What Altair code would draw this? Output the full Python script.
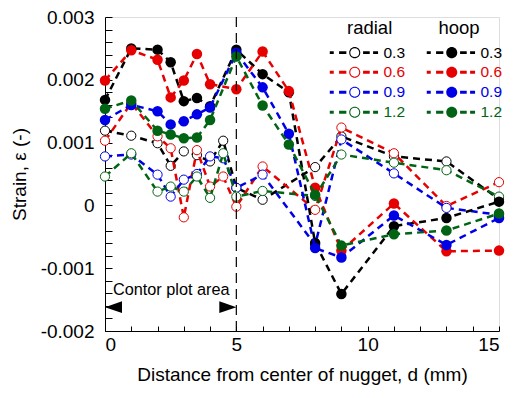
import altair as alt
import pandas as pd

FONT = "Liberation Sans"

# ---- data ----
x_radial = [0, 1, 2, 2.5, 3, 3.5, 4, 4.5, 5, 6, 8, 9, 11, 13, 15]
radial_03 = [0.00119, 0.00111, 0.00099, 0.00063, 0.00086, 0.00080, 0.00070, 0.00103, 0.00028, 0.00009, 0.00061, 0.00110, 0.00078, 0.00070, 0.00010]
radial_06 = [0.00103, 0.00163, 0.00110, 0.00091, -0.00019, 0.00088, 0.00030, 0.00046, -0.00002, 0.00062, -0.00007, 0.00124, 0.00083, -0.00001, 0.00037]
radial_09 = [0.00078, 0.00081, 0.00049, 0.00014, 0.00041, 0.00050, 0.00078, 0.00075, 0.00028, 0.00049, -0.00063, 0.00105, 0.00051, -0.00004, -0.00015]
radial_12 = [0.00046, 0.00083, 0.00022, 0.00030, 0.00022, 0.00046, 0.00012, 0.00083, 0.00014, 0.00023, 0.00015, 0.00081, 0.00068, 0.00056, 0.00014]

x_hoop = [0, 1, 2, 2.5, 3, 3.5, 4, 5, 6, 7, 8, 9, 11, 13, 15]
hoop_03 = [0.00168, 0.00250, 0.00248, 0.00228, 0.00166, 0.00171, 0.00158, 0.00248, 0.00209, 0.00180, -0.00060, -0.00141, -0.00033, -0.00020, 0.00006]
hoop_06 = [0.00199, 0.00247, 0.00232, 0.00172, 0.00199, 0.00241, 0.00193, 0.00185, 0.00245, 0.00182, 0.00028, -0.00072, 0.00003, -0.00073, -0.00072]
hoop_09 = [0.00136, 0.00160, 0.00150, 0.00129, 0.00134, 0.00145, 0.00156, 0.00243, 0.00188, 0.00114, -0.00068, -0.00083, -0.00016, -0.00063, -0.00020]
hoop_12 = [0.00154, 0.00167, 0.00119, 0.00113, 0.00107, 0.00108, 0.00136, 0.00237, 0.00159, 0.00097, 0.00017, -0.00064, -0.00046, -0.00040, -0.00013]

series_labels = ["0.3", "0.6", "0.9", "1.2"]
series_colors = ["#000000", "#e60000", "#0000e6", "#006414"]

x_tick_values = list(range(16))
y_tick_values = [round(-0.002 + 0.0002 * k, 4) for k in range(26)]

annotation_text = "Contor plot area"
region_bounds = [0, 5]

# ---- scales / axes ----
xscale = alt.Scale(domain=[0, 15], nice=False, zero=False)
yscale = alt.Scale(domain=[-0.002, 0.003], nice=False, zero=False)

xaxis = alt.Axis(
    values=x_tick_values,
    labelExpr="datum.value % 5 == 0 ? datum.label : ''",
    grid=False, tickSize={"expr": "-5"}, labelPadding=9,
    labelFont=FONT, labelFontSize=19, labelColor="black",
    title="Distance from center of nugget, d (mm)",
    titleFont=FONT, titleFontSize=19, titleFontWeight="normal", titleColor="black",
    titlePadding=11, domainColor="black", tickColor="black",
)
yaxis = alt.Axis(
    values=y_tick_values,
    labelExpr="abs(datum.value*1000 - round(datum.value*1000)) < 0.001 ? "
              "(abs(datum.value) < 1e-9 ? '0' : (datum.value < 0 ? '-' : '') + format(abs(datum.value), '.3f')) : ''",
    grid=False, tickSize={"expr": "-7"}, labelPadding=18,
    labelFont=FONT, labelFontSize=19, labelColor="black",
    title="Strain, \u03b5 (-)",
    titleFont=FONT, titleFontSize=19, titleFontWeight="normal", titleColor="black",
    titlePadding=11, domainColor="black", tickColor="black",
)


def X():
    return alt.X("d:Q", scale=xscale, axis=xaxis)


def Y():
    return alt.Y("s:Q", scale=yscale, axis=yaxis)


layers = []

# radial series (open circles)
for ys, col in zip([radial_03, radial_06, radial_09, radial_12], series_colors):
    df = pd.DataFrame({"d": x_radial, "s": ys})
    base = alt.Chart(df).encode(x=X(), y=Y())
    layers.append(base.mark_line(color=col, strokeDash=[7, 5], strokeWidth=2.5))
    layers.append(base.mark_point(shape="circle", filled=True, fill="white", stroke=col,
                                  strokeWidth=1, size=85, opacity=1))

# hoop series (filled circles)
for ys, col in zip([hoop_03, hoop_06, hoop_09, hoop_12], series_colors):
    df = pd.DataFrame({"d": x_hoop, "s": ys})
    base = alt.Chart(df).encode(x=X(), y=Y())
    layers.append(base.mark_line(color=col, strokeDash=[7, 5], strokeWidth=2.5))
    layers.append(base.mark_circle(color=col, size=110, opacity=1))

# vertical dashed line at the contour area edge
vline = alt.Chart(pd.DataFrame({"d": [region_bounds[1]]})).mark_rule(
    color="black", strokeDash=[10, 6], strokeWidth=1.2).encode(x=X())
layers.append(vline)

# arrows and text
left_tri = "M-1,0 L1,-0.7 L1,0.7 Z"
right_tri = "M1,0 L-1,-0.7 L-1,0.7 Z"
layers.append(alt.Chart(pd.DataFrame({"d": [region_bounds[0]], "s": [-0.00162]})).mark_point(
    shape=left_tri, filled=True, fill="black", strokeWidth=0, size=289, opacity=1, xOffset=8.5
).encode(x=X(), y=Y()))
layers.append(alt.Chart(pd.DataFrame({"d": [region_bounds[1]], "s": [-0.00162]})).mark_point(
    shape=right_tri, filled=True, fill="black", strokeWidth=0, size=289, opacity=1, xOffset=-8.5
).encode(x=X(), y=Y()))
layers.append(alt.Chart(pd.DataFrame({"d": [0.3], "s": [-0.00142], "t": [annotation_text]})).mark_text(
    align="left", baseline="alphabetic", font=FONT, fontSize=16.3, color="black"
).encode(x=X(), y=Y(), text="t:N"))

# ---- legend (built from a legend-only layer) ----


def ring_path(ro, ri):
    return (f"M{-ro},0 A{ro},{ro} 0 1 1 {ro},0 A{ro},{ro} 0 1 1 {-ro},0 Z "
            f"M{-ri},0 A{ri},{ri} 0 1 0 {ri},0 A{ri},{ri} 0 1 0 {-ri},0 Z")


def disc_path(r):
    return f"M{-r},0 A{r},{r} 0 1 1 {r},0 A{r},{r} 0 1 1 {-r},0 Z"


dashes = ""
for a, b in [(-3.57, -3.0), (-2.24, -1.2), (1.19, 2.14), (2.62, 3.33)]:
    dashes += f" M{a},-0.21 H{b} V0.21 H{a} Z"

keys = ["r" + lab for lab in series_labels] + ["h" + lab for lab in series_labels]
key_colors = series_colors + series_colors
key_shapes = [ring_path(0.79, 0.64) + dashes] * 4 + [disc_path(0.79) + dashes] * 4

NB = "\u00a0"
TH = "\u2009"
legend = alt.Legend(
    orient="none", legendX=242, legendY=2, columns=2,
    title=NB * 2 + TH * 2 + "radial" + NB * 9 + "hoop",
    titleFont=FONT, titleFontSize=18.5, titleFontWeight="normal", titleColor="black", titlePadding=7,
    labelFont=FONT, labelFontSize=15.5, labelOffset=21, labelExpr="substring(datum.label, 1)",
    labelColor={"expr": "scale('color', datum.value)"},
    symbolSize=196, symbolStrokeWidth=0, symbolOpacity=1,
    rowPadding=3, columnPadding=20, padding=0,
)

legend_layer = alt.Chart(pd.DataFrame({"key": keys, "d": [0] * len(keys), "s": [0] * len(keys)})).mark_point(
    filled=True, opacity=1, size=196
).encode(
    x=X(), y=Y(),
    color=alt.Color("key:N", scale=alt.Scale(domain=keys, range=key_colors), legend=legend),
    shape=alt.Shape("key:N", scale=alt.Scale(domain=keys, range=key_shapes), legend=legend),
).transform_filter("false")
layers.append(legend_layer)

chart = alt.layer(*layers).properties(
    width=394, height=314,
    autosize=alt.AutoSizeParams(type="none"),
    padding={"left": 97, "top": 9, "right": 6, "bottom": 59},
).configure_view(stroke="black", strokeWidth=1).configure(background="white")

chart.save("out.html", embed_options={"renderer": "svg", "actions": False})
